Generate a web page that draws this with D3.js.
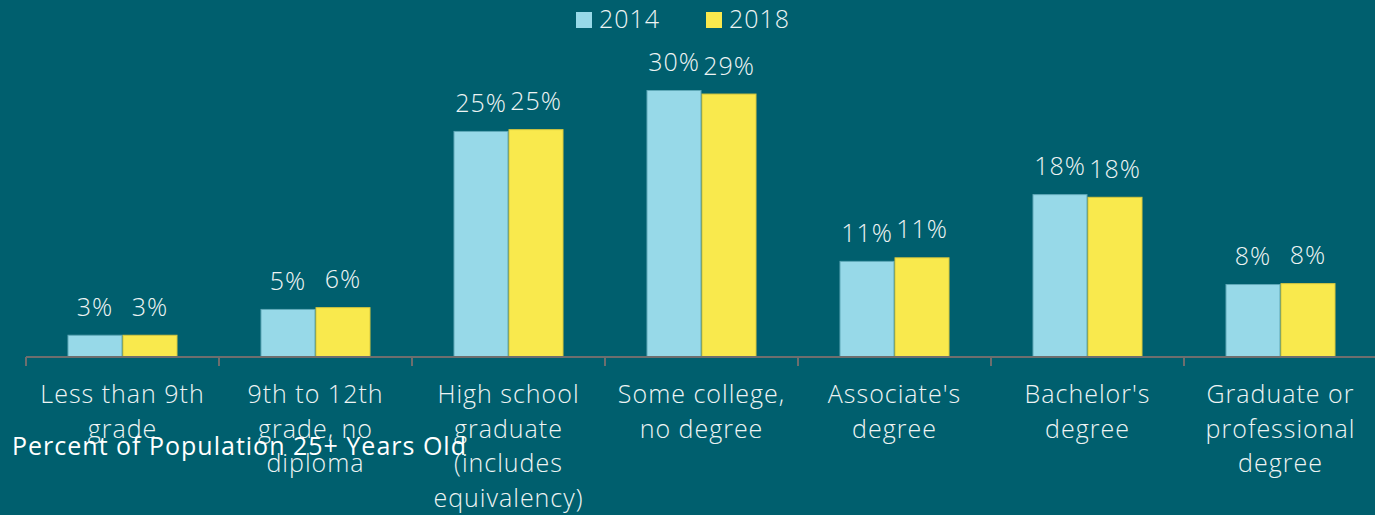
<!DOCTYPE html>
<html><head><meta charset="utf-8">
<script src="https://cdn.jsdelivr.net/npm/d3@7"></script>
<style>
html,body{margin:0;padding:0;background:#005f6e;}
svg{display:block;}
text{font-family:"Open Sans",sans-serif;font-weight:300;letter-spacing:1px;}
</style></head>
<body>
<svg id="chart" width="1375" height="515"></svg>
<script>
const categories = ["Less than 9th\ngrade", "9th to 12th\ngrade, no\ndiploma", "High school\ngraduate\n(includes\nequivalency)", "Some college,\nno degree", "Associate's\ndegree", "Bachelor's\ndegree", "Graduate or\nprofessional\ndegree"];
const seriesNames = ["2014", "2018"];
const values2014 = [0.025, 0.054, 0.254, 0.300, 0.108, 0.183, 0.082];
const values2018 = [0.025, 0.056, 0.256, 0.296, 0.112, 0.180, 0.083];
const labels2014 = ["3%", "5%", "25%", "30%", "11%", "18%", "8%"];
const labels2018 = ["3%", "6%", "25%", "29%", "11%", "18%", "8%"];
const titleText = "Percent of Population 25+ Years Old";

const colors = ["#97d9e8", "#f9e94d"];
const strokes = ["#5fa9b8", "#d8c83e"];

const svg = d3.select("#chart");
const W = 1375, H = 515;
const x0 = 26, x1 = 1377, base = 357;
const FS = 25;

const x = d3.scaleBand().domain(categories).range([x0, x1]).paddingInner(0).paddingOuter(0);
const y = d3.scaleLinear().domain([0, 0.35]).range([base, base - 0.35 * 890]);
const groupW = x.bandwidth() * 0.57;
const xs = d3.scaleBand().domain(seriesNames).range([0, groupW]).padding(0);

const series = [values2014, values2018];
const labs = [labels2014, labels2018];

// bars
seriesNames.forEach((s, si) => {
  const g = svg.append("g");
  g.selectAll("rect").data(categories).join("rect")
    .attr("x", (c) => x(c) + (x.bandwidth() - groupW) / 2 + xs(s) + 0.5)
    .attr("y", (c, i) => y(series[si][i]) + 0.5)
    .attr("width", xs.bandwidth() - 1)
    .attr("height", (c, i) => base - y(series[si][i]) - 0.5)
    .attr("fill", colors[si])
    .attr("stroke", strokes[si])
    .attr("stroke-width", 1);
  g.selectAll("text").data(categories).join("text")
    .attr("x", (c) => x(c) + (x.bandwidth() - groupW) / 2 + xs(s) + xs.bandwidth() / 2)
    .attr("y", (c, i) => y(series[si][i]) - 19)
    .attr("text-anchor", "middle")
    .attr("fill", "#eef4f4")
    .attr("font-size", FS)
    .text((c, i) => labs[si][i]);
});

// axis
const axis = d3.axisBottom(x).tickSize(0).tickFormat("");
const ag = svg.append("g").attr("transform", `translate(0,${base})`).call(axis);
ag.select(".domain").attr("stroke", "#6e6e6e").attr("stroke-width", 2).attr("d", `M${x0},0H${W}`);
const bounds = categories.map(c => x(c)).concat([x1]);
ag.selectAll(".bt").data(bounds).join("line").attr("class", "bt")
  .attr("x1", d => d).attr("x2", d => d).attr("y1", 0).attr("y2", 9)
  .attr("stroke", "#6e6e6e").attr("stroke-width", 2);

// category labels
const cl = svg.append("g");
categories.forEach(c => {
  const t = cl.append("text")
    .attr("x", x(c) + x.bandwidth() / 2)
    .attr("y", 403)
    .attr("text-anchor", "middle")
    .attr("fill", "#eef4f4")
    .attr("font-size", FS);
  c.split("\n").forEach((line, li) => {
    t.append("tspan").attr("x", x(c) + x.bandwidth() / 2).attr("dy", li === 0 ? 0 : 34.5).text(line);
  });
});

// title
svg.append("text").attr("x", 12).attr("y", 455)
  .attr("fill", "#ffffff").attr("font-size", FS).style("font-weight", 400)
  .text(titleText);

// legend
const leg = svg.append("g");
const legX = [576, 706];
seriesNames.forEach((s, si) => {
  leg.append("rect").attr("x", legX[si]).attr("y", 12).attr("width", 16).attr("height", 16).attr("fill", colors[si]);
  leg.append("text").attr("x", legX[si] + 23).attr("y", 28).attr("fill", "#eef4f4").attr("font-size", FS).text(s);
});
</script>
</body></html>
